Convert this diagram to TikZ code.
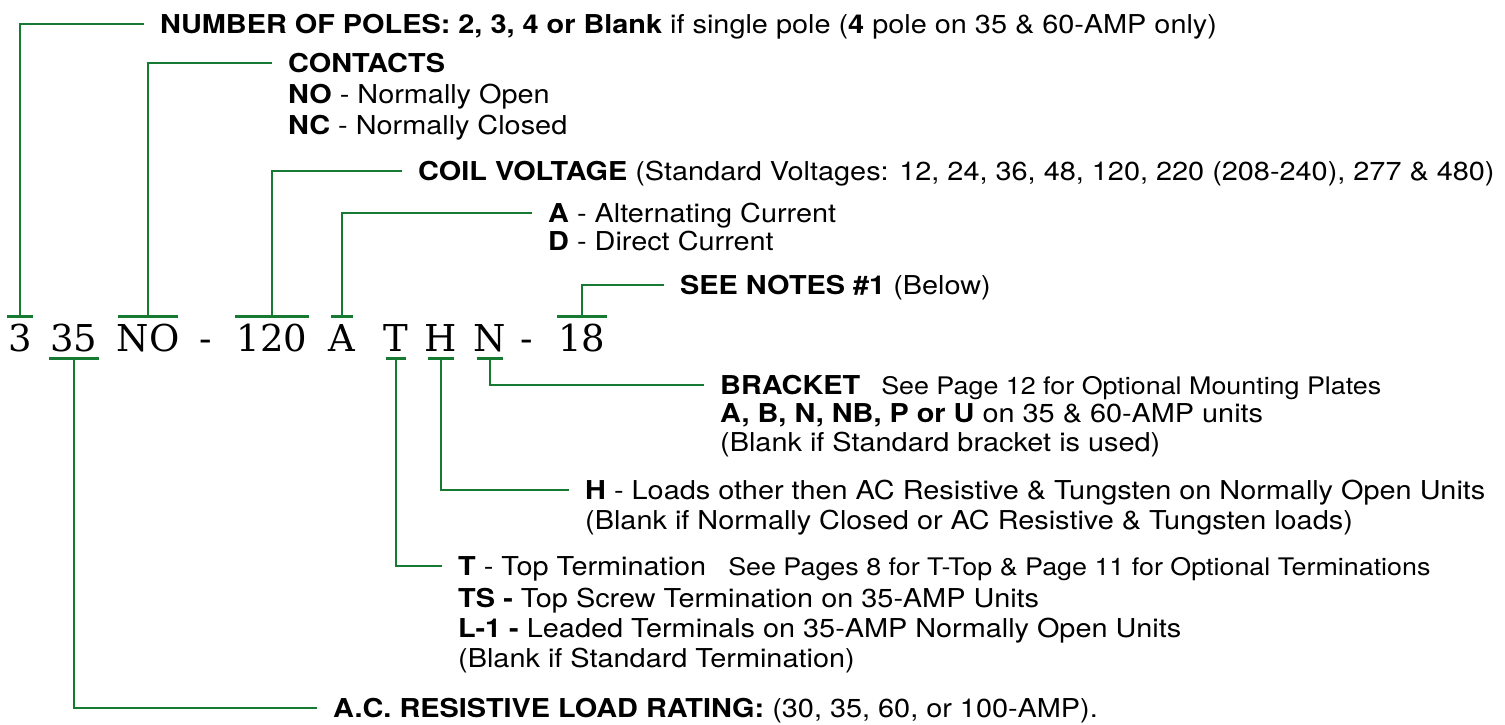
\documentclass[tikz,border=0pt]{standalone}
\usepackage{fontspec}
\setmainfont{TeX Gyre Heros}[FakeStretch=1.11]
\newfontfamily\serifcode{DejaVu Serif}
\usetikzlibrary{positioning}

\definecolor{leadgreen}{RGB}{22,122,50}
\newcommand\codefont{\serifcode\fontsize{37}{42}\selectfont}
\newcommand\seenote[1]{{\fontsize{24.2}{28}\selectfont #1}}

\begin{document}
\begin{tikzpicture}[
  x=1pt, y=-1pt,
  codechar/.style={font=\codefont, text height=27pt, text depth=0pt,
                   inner ysep=7.5pt, inner xsep=1pt},
  letterchar/.style={codechar, inner xsep=-3pt},
  lbl/.style={anchor=west, inner xsep=0pt, inner ysep=0pt, text height=18.7pt,
              text depth=0pt, font=\fontsize{26}{31}\selectfont},
  lead/.style={draw=leadgreen, line width=2.6pt, line join=miter},
  leader/.style={lead, shorten >=16pt},
]
\useasboundingbox (0,0) rectangle (1505,725);

%% ---------- part number ----------
\node[codechar] (c3) at (20,337.5) {3};
\node[codechar] (c35) at (74,337.5) {35};
\node[codechar, inner xsep=-2pt] (cNO) at (148,337.5) {NO};
\node[codechar] (dash1) at (206,337.5) {-};
\node[codechar] (c120) at (272,337.5) {120};
\node[letterchar] (cA) at (342,337.5) {A};
\node[letterchar] (cT) at (396,337.5) {T};
\node[letterchar] (cH) at (441,337.5) {H};
\node[letterchar] (cN) at (490,337.5) {N};
\node[codechar] (dash2) at (527,337.5) {-};
\node[codechar] (c18) at (582,337.5) {18};

%% ---------- labels above ----------
\node[lbl] (poles) at (160,24) {\textbf{NUMBER OF POLES: 2, 3, 4 or Blank} if single pole (\textbf{4} pole on 35 \& 60-AMP only)};

\node[lbl] (contacts) at (288,63) {\textbf{CONTACTS}};
\node[lbl] (contactsNO) at (288,94) {\textbf{NO} - Normally Open};
\node[lbl] (contactsNC) at (288,125) {\textbf{NC} - Normally Closed};

\node[lbl] (coil) at (418,171) {\textbf{COIL VOLTAGE} (Standard Voltages: 12, 24, 36, 48, 120, 220 (208-240), 277 \& 480)};

\node[lbl] (current) at (548,213) {\textbf{A} - Alternating Current};
\node[lbl] (currentD) at (548,241) {\textbf{D} - Direct Current};

\node[lbl] (notes) at (680,285) {\textbf{SEE NOTES \#1} (Below)};

%% ---------- labels below ----------
\node[lbl] (bracket) at (720,385) {\textbf{BRACKET}\hspace{21pt}\seenote{See Page 12 for Optional Mounting Plates}};
\node[lbl] (bracketA) at (720,413) {\textbf{A, B, N, NB, P or U} on 35 \& 60-AMP units};
\node[lbl] (bracketB) at (720,442) {(Blank if Standard bracket is used)};

\node[lbl] (hload) at (585,490) {\textbf{H} - Loads other then AC Resistive \& Tungsten on Normally Open Units};
\node[lbl] (hloadB) at (585,520) {(Blank if Normally Closed or AC Resistive \& Tungsten loads)};

\node[lbl] (term) at (458,566) {\textbf{T} - Top Termination\hspace{22pt}\seenote{See Pages 8 for T-Top \& Page 11 for Optional Terminations}};
\node[lbl] (termTS) at (458,598) {\textbf{TS -} Top Screw Termination on 35-AMP Units};
\node[lbl] (termL) at (458,628) {\textbf{L-1 -} Leaded Terminals on 35-AMP Normally Open Units};
\node[lbl] (termB) at (458,658) {(Blank if Standard Termination)};

\node[lbl] (rating) at (333,708) {\textbf{A.C. RESISTIVE LOAD RATING:} (30, 35, 60, or 100-AMP).};

%% ---------- bars and leaders ----------
\draw[lead] (c3.north west) -- (c3.north east);
\draw[leader] (c3.north) |- (poles.west);

\draw[lead] (cNO.north west) -- (cNO.north east);
\draw[leader] (cNO.north) |- (contacts.west);

\draw[lead] (c120.north west) -- (c120.north east);
\draw[leader] (c120.north) |- (coil.west);

\draw[lead] (cA.north west) -- (cA.north east);
\draw[leader] (cA.north) |- (current.west);

\draw[lead] (c18.north west) -- (c18.north east);
\draw[leader] (c18.north) |- (notes.west);

\draw[lead] (cN.south west) -- (cN.south east);
\draw[leader] (cN.south) |- (bracket.west);

\draw[lead] (cH.south west) -- (cH.south east);
\draw[leader] (cH.south) |- (hload.west);

\draw[lead] (cT.south west) -- (cT.south east);
\draw[leader] (cT.south) |- (term.west);

\draw[lead] (c35.south west) -- (c35.south east);
\draw[leader] (c35.south) |- (rating.west);

\end{tikzpicture}
\end{document}
